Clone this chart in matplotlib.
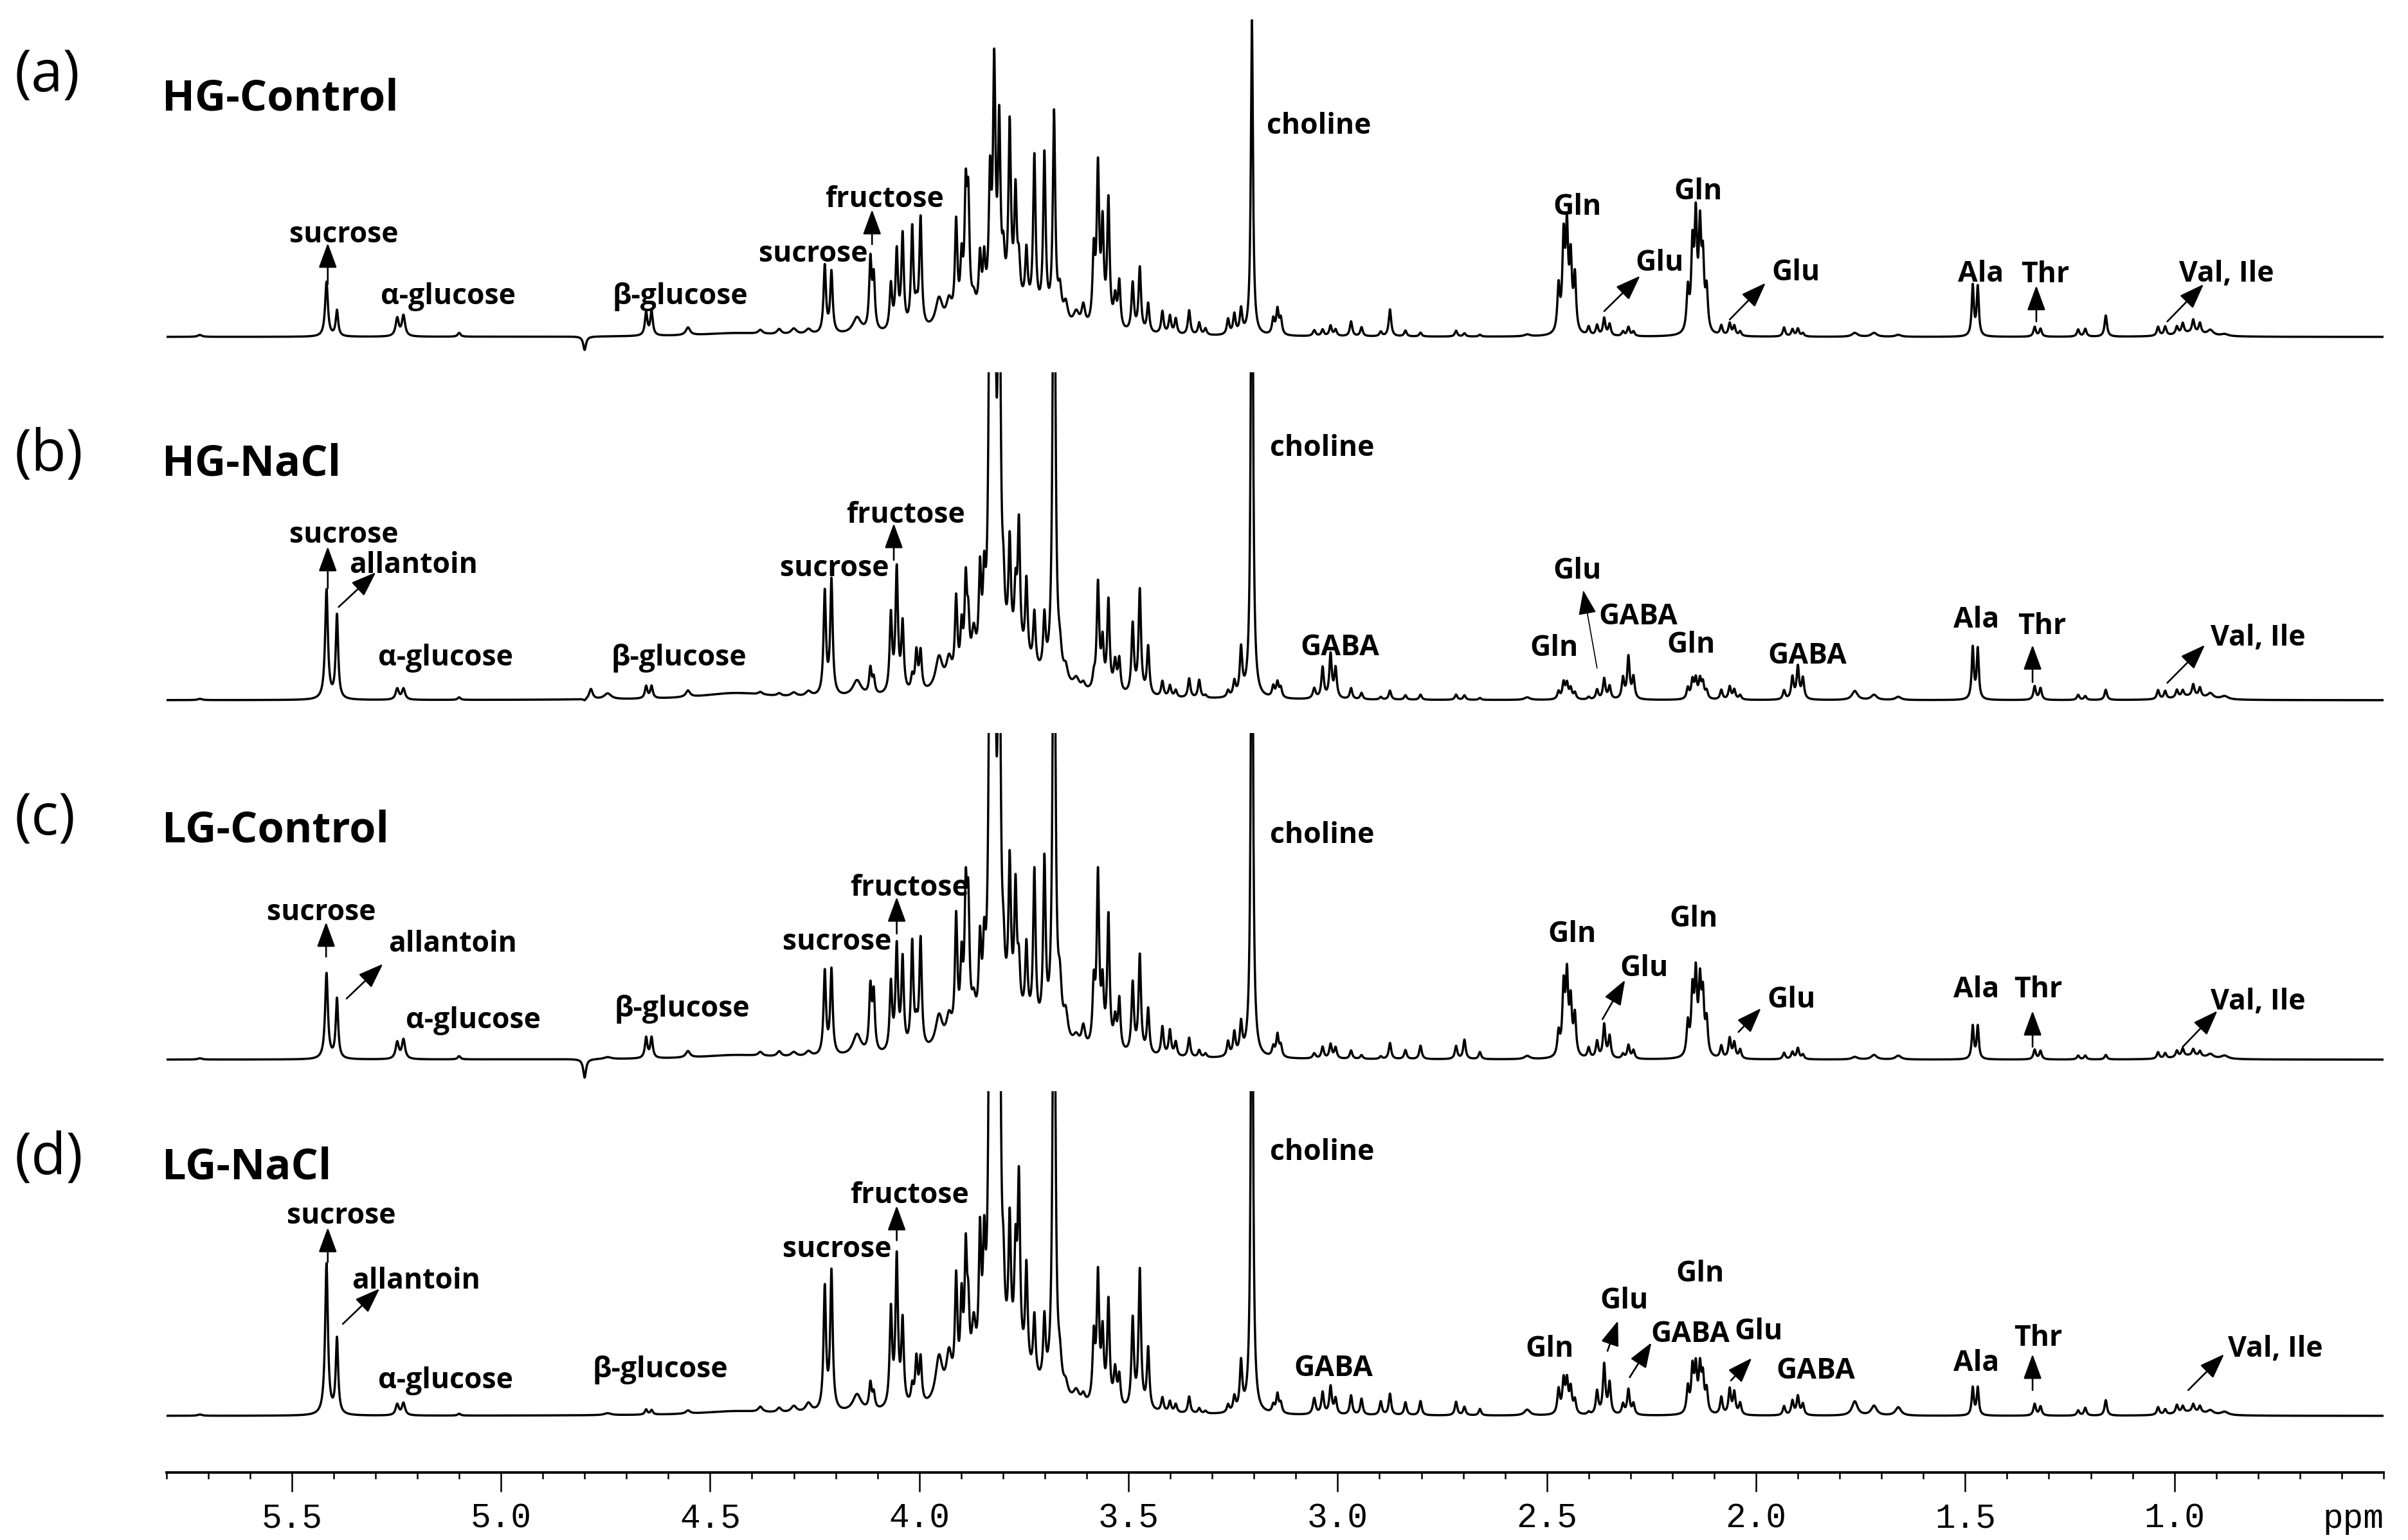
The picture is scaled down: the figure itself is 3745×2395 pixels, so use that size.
import numpy as np
import matplotlib
matplotlib.use("Agg")
import matplotlib.pyplot as plt
from matplotlib.ticker import FixedLocator, MultipleLocator, FormatStrFormatter

W, H, DPI = 3745, 2395, 200

# ---------------- data: peak table ----------------
# chemical shift (ppm) of each resolved signal
peak_ppm = [
    5.720, 5.417, 5.392, 5.248, 5.233, 5.100, 4.800, 4.785, 4.745, 4.653,
    4.640, 4.553, 4.440, 4.380, 4.335, 4.300, 4.265,
    4.226, 4.210, 4.149, 4.117, 4.109, 4.068, 4.054, 4.040, 4.017, 4.007,
    3.997, 3.953, 3.929, 3.912, 3.899, 3.889, 3.883, 3.870, 3.855, 3.845,
    3.831, 3.821, 3.809, 3.799, 3.784, 3.770, 3.762, 3.744, 3.725, 3.701,
    3.678, 3.664, 3.650, 3.625, 3.608, 3.583, 3.573, 3.562, 3.548, 3.532,
    3.522, 3.490, 3.473, 3.453, 3.419, 3.401, 3.387, 3.355, 3.331, 3.316,
    3.262, 3.247, 3.231, 3.205, 3.154, 3.144, 3.136, 3.056,
    3.036, 3.017, 3.005, 2.968, 2.943, 2.897, 2.875, 2.838, 2.802, 2.717,
    2.697, 2.660, 2.547, 2.472, 2.460, 2.452, 2.443, 2.433, 2.400, 2.380,
    2.363, 2.350, 2.318, 2.305, 2.293, 2.163, 2.152, 2.144, 2.134, 2.127,
    2.118, 2.083, 2.063, 2.052, 2.038, 1.933, 1.913, 1.900, 1.888, 1.764,
    1.718, 1.660, 1.482, 1.470, 1.334, 1.320, 1.230, 1.213, 1.164, 1.039,
    1.022, 0.994, 0.980, 0.955, 0.939, 0.914, 0.880, 0.960, 3.780,
]
# half width at half maximum (ppm)
peak_hwhm = [
    .006, .004, .0035, .0045, .0045, .004, .004, .005, .010, .0035,
    .0035, .006, .100, .006, .006, .008, .008,
    .0035, .0035, .012, .0035, .0035, .0035, .0035, .0035, .0035, .0035,
    .0035, .010, .008, .0035, .0035, .0035, .0035, .006, .0035, .0035,
    .0035, .0035, .0035, .0035, .0035, .0035, .0035, .0035, .0035, .0035,
    .0035, .005, .006, .008, .005, .0035, .0035, .0035, .0035, .004,
    .0035, .0035, .0035, .0035, .0035, .0035, .0035, .0035, .0035, .0035,
    .0035, .0035, .0035, .003, .0035, .0035, .0035, .004,
    .0035, .0035, .0035, .0035, .0035, .0035, .0035, .0035, .0035, .0035,
    .0035, .0035, .008, .0035, .0035, .0035, .0035, .0035, .0035, .0035,
    .0035, .0035, .0035, .0035, .0035, .0035, .0035, .0035, .0035, .0035,
    .0035, .0035, .0035, .0035, .0035, .0035, .0035, .0035, .0035, .008,
    .008, .008, .003, .003, .0035, .0035, .0035, .0035, .0035, .0035,
    .0035, .0035, .0035, .0035, .0035, .008, .010, .040, .080,
]
# peak heights per sample (arbitrary intensity)
hg_control = [
    3, 85, 40, 28, 32, 6, -21, 0, 0, 36,
    38, 12, 5, 6, 8, 9, 8,
    105, 95, 25, 108, 80, 70, 120, 145, 155, 25,
    170, 45, 35, 150, 85, 180, 165, 25, 85, 75,
    190, 360, 270, 60, 270, 165, 55, 85, 240, 250,
    320, 45, 30, 22, 32, 110, 240, 150, 195, 45,
    72, 75, 100, 45, 35, 28, 24, 38, 19, 10,
    24, 31, 38, 490, 24, 38, 24, 9,
    10, 16, 10, 23, 14, 7, 42, 9, 6, 9,
    5, 3, 3, 70, 140, 150, 108, 85, 13, 16,
    27, 18, 7, 14, 7, 65, 125, 165, 150, 100,
    62, 15, 19, 15, 7, 14, 11, 12, 5, 6,
    6, 3, 78, 76, 15, 12, 11, 12, 33, 14,
    14, 12, 16, 20, 16, 8, 3, 6, 45,
]
hg_nacl = [
    2, 170, 130, 17, 17, 4, -3, 16, 9, 19,
    19, 10, 10, 4, 4, 6, 8,
    160, 178, 25, 40, 24, 120, 190, 105, 22, 60,
    60, 50, 40, 125, 75, 140, 72, 60, 140, 110,
    700, 800, 700, 70, 165, 90, 200, 125, 85, 85,
    900, 35, 22, 16, 10, 18, 165, 72, 140, 45,
    50, 108, 162, 75, 24, 18, 11, 30, 28, 4,
    10, 23, 72, 900, 17, 23, 15, 16,
    48, 68, 46, 17, 10, 4, 14, 7, 8, 8,
    7, 3, 4, 12, 25, 23, 16, 10, 4, 15,
    32, 20, 32, 65, 33, 17, 28, 29, 28, 23,
    12, 15, 20, 15, 7, 14, 34, 50, 32, 14,
    8, 5, 80, 78, 21, 18, 8, 6, 16, 14,
    12, 12, 10, 18, 14, 8, 5, 6, 55,
]
lg_control = [
    2, 133, 93, 26, 30, 5, -29, 0, 3, 32,
    32, 10, 6, 6, 8, 7, 8,
    130, 132, 33, 98, 88, 105, 160, 140, 165, 28,
    170, 50, 40, 185, 110, 200, 180, 42, 125, 100,
    700, 800, 700, 60, 225, 190, 70, 115, 240, 260,
    900, 70, 40, 16, 32, 92, 265, 90, 205, 45,
    78, 108, 152, 70, 45, 40, 22, 30, 11, 6,
    23, 36, 48, 900, 15, 34, 17, 8,
    18, 22, 17, 13, 6, 4, 25, 14, 21, 20,
    30, 11, 5, 36, 104, 118, 80, 62, 16, 26,
    52, 34, 7, 21, 13, 50, 95, 118, 105, 85,
    52, 19, 31, 24, 14, 10, 11, 17, 7, 4,
    7, 6, 51, 51, 15, 13, 6, 6, 7, 10,
    8, 10, 12, 10, 8, 6, 5, 6, 55,
]
lg_nacl = [
    2, 235, 117, 17, 19, 3, 0, 0, 3, 8,
    7, 5, 6, 8, 7, 10, 14,
    190, 215, 27, 40, 24, 150, 230, 130, 28, 70,
    70, 70, 65, 170, 130, 195, 95, 85, 205, 165,
    800, 900, 800, 90, 205, 155, 275, 160, 95, 100,
    900, 40, 18, 18, 13, 100, 195, 105, 160, 55,
    46, 138, 215, 95, 22, 17, 13, 26, 8, 4,
    12, 23, 75, 900, 12, 29, 15, 25,
    34, 43, 24, 30, 25, 21, 33, 20, 22, 21,
    13, 10, 9, 38, 50, 48, 38, 21, 4, 36,
    77, 48, 16, 39, 17, 40, 67, 67, 67, 52,
    35, 27, 39, 34, 18, 14, 22, 29, 17, 22,
    15, 13, 43, 43, 18, 14, 8, 12, 24, 12,
    8, 13, 10, 12, 10, 6, 5, 6, 65,
]
spectra = [hg_control, hg_nacl, lg_control, lg_nacl]

panel_letters = ["(a)", "(b)", "(c)", "(d)"]
panel_names = ["HG-Control", "HG-NaCl", "LG-Control", "LG-NaCl"]
major_ticks = [5.5, 5.0, 4.5, 4.0, 3.5, 3.0, 2.5, 2.0, 1.5, 1.0]

# annotation labels: (text, ppm, height, alignment)
labels = [
    [("sucrose", 5.375, 147, "center"), ("α-glucose", 5.127, 51, "center"),
     ("β-glucose", 4.571, 51, "center"), ("sucrose", 4.254, 117, "center"),
     ("fructose", 4.084, 202, "center"), ("choline", 3.170, 316, "left"),
     ("Gln", 2.428, 190, "center"), ("Glu", 2.230, 103, "center"),
     ("Gln", 2.138, 214, "center"), ("Glu", 1.904, 88, "center"),
     ("Ala", 1.463, 86, "center"), ("Thr", 1.309, 85, "center"),
     ("Val, Ile", 0.988, 86, "left")],
    [("sucrose", 5.375, 245, "center"), ("allantoin", 5.362, 198, "left"),
     ("α-glucose", 5.133, 54, "center"), ("β-glucose", 4.574, 54, "center"),
     ("sucrose", 4.203, 193, "center"), ("fructose", 4.032, 276, "center"),
     ("choline", 3.162, 380, "left"), ("GABA", 2.995, 70, "center"),
     ("Gln", 2.482, 69, "center"), ("Glu", 2.428, 189, "center"),
     ("GABA", 2.282, 118, "center"), ("Gln", 2.156, 74, "center"),
     ("GABA", 1.878, 57, "center"), ("Ala", 1.474, 113, "center"),
     ("Thr", 1.317, 103, "center"), ("Val, Ile", 0.914, 85, "left")],
    [("sucrose", 5.429, 217, "center"), ("allantoin", 5.269, 168, "left"),
     ("α-glucose", 5.066, 49, "center"), ("β-glucose", 4.567, 67, "center"),
     ("sucrose", 4.196, 171, "center"), ("fructose", 4.024, 255, "center"),
     ("choline", 3.162, 337, "left"), ("Gln", 2.440, 183, "center"),
     ("Glu", 2.267, 130, "center"), ("Gln", 2.149, 207, "center"),
     ("Glu", 1.916, 81, "center"), ("Ala", 1.474, 97, "center"),
     ("Thr", 1.326, 97, "center"), ("Val, Ile", 0.914, 78, "left")],
    [("sucrose", 5.381, 299, "center"), ("allantoin", 5.356, 198, "left"),
     ("α-glucose", 5.133, 43, "center"), ("β-glucose", 4.619, 60, "center"),
     ("sucrose", 4.196, 247, "center"), ("fructose", 4.024, 331, "center"),
     ("choline", 3.162, 398, "left"), ("GABA", 3.010, 62, "center"),
     ("Gln", 2.493, 92, "center"), ("Glu", 2.315, 167, "center"),
     ("GABA", 2.157, 115, "center"), ("Gln", 2.134, 209, "center"),
     ("Glu", 1.994, 119, "center"), ("GABA", 1.858, 58, "center"),
     ("Ala", 1.474, 70, "center"), ("Thr", 1.326, 109, "center"),
     ("Val, Ile", 0.872, 92, "left")],
]
# arrows: (ppm start, height start, ppm tip, height tip)
arrows = [
    [(5.414, 82, 5.414, 146), (4.113, 144, 4.113, 198), (2.363, 40, 2.277, 95),
     (2.063, 27, 1.977, 84), (1.330, 24, 1.330, 80), (1.017, 24, 0.930, 82)],
    [(5.414, 174, 5.414, 239), (5.388, 145, 5.299, 199), (4.061, 218, 4.061, 275),
     (2.380, 50, 2.413, 171), (1.339, 28, 1.339, 86), (1.017, 27, 0.927, 86)],
    [(5.418, 160, 5.418, 214), (5.369, 95, 5.282, 149), (4.054, 196, 4.054, 253),
     (2.367, 63, 2.313, 124), (2.042, 43, 1.988, 80), (1.339, 20, 1.339, 76),
     (0.980, 20, 0.897, 76)],
    [(5.414, 239, 5.414, 293), (5.378, 143, 5.290, 198), (4.054, 273, 4.054, 327),
     (2.355, 101, 2.330, 148), (2.302, 60, 2.250, 114), (2.060, 55, 2.010, 90),
     (1.339, 40, 1.339, 96), (0.967, 40, 0.881, 96)],
]

# ---------------- layout (pixels) ----------------
X0, X1 = 258.6, 3707.0
baselines = [524, 1089, 1648, 2202]
tops = [522, 510, 508, 505]
bottoms = [-40, -40, -40, -88]
letter_pos = [(22, 142), (22, 732), (22, 1298), (22, 1826)]
name_pos = [(252, 172), (252, 739), (252, 1310), (252, 1834)]

LABEL_FONT = ["Open Sans", "DejaVu Sans"]
MONO_FONT = ["Liberation Mono", "DejaVu Sans Mono"]

fig = plt.figure(figsize=(W / DPI, H / DPI), dpi=DPI)
fig.patch.set_facecolor("white")

ppm_grid = np.linspace(5.8, 0.5, 30000)


def lineshape(heights):
    y = np.zeros_like(ppm_grid)
    for p, w, h in zip(peak_ppm, peak_hwhm, heights):
        y += h * w * w / ((ppm_grid - p) ** 2 + w * w)
    return y


for i in range(4):
    bl = baselines[i]
    top_px = bl - tops[i]
    bot_px = bl - bottoms[i]
    ax = fig.add_axes([X0 / W, 1 - bot_px / H, (X1 - X0) / W, (bot_px - top_px) / H])
    ax.plot(ppm_grid, lineshape(spectra[i]), color="black", lw=1.25)
    ax.set_xlim(5.8, 0.5)
    ax.set_ylim(bottoms[i], tops[i])
    ax.set_yticks([])
    for s in ("left", "right", "top"):
        ax.spines[s].set_visible(False)
    if i < 3:
        ax.spines["bottom"].set_visible(False)
        ax.set_xticks([])
    else:
        ax.spines["bottom"].set_linewidth(1.4)
        ax.xaxis.set_major_locator(FixedLocator(major_ticks))
        ax.xaxis.set_minor_locator(MultipleLocator(0.1))
        ax.xaxis.set_major_formatter(FormatStrFormatter("%.1f"))
        ax.tick_params(axis="x", which="major", direction="out", length=10.8,
                       width=0.9, pad=6)
        ax.tick_params(axis="x", which="minor", direction="out", length=3.6,
                       width=0.9)
        for lab in ax.get_xticklabels():
            lab.set_fontfamily(MONO_FONT)
            lab.set_fontsize(19)
        ax.annotate("ppm", xy=(0.5, 0), xycoords=("data", "axes fraction"),
                    xytext=(0, -(10.8 + 6)), textcoords="offset points",
                    ha="right", va="top", fontsize=19, family=MONO_FONT)
    for txt, x, y, ha in labels[i]:
        ax.text(x, y, txt, ha=ha, va="baseline", fontsize=16,
                fontweight="bold", family=LABEL_FONT)
    for x0, y0, x1, y1 in arrows[i]:
        thin = (x0 != x1) and (y1 - y0) > 100
        ax.annotate("", xy=(x1, y1), xytext=(x0, y0), annotation_clip=False,
                    arrowprops=dict(arrowstyle="-|>,head_length=0.6,head_width=0.22",
                                    mutation_scale=20, lw=0.6 if thin else 0.95,
                                    color="black", shrinkA=0, shrinkB=0))
    lx, ly = letter_pos[i]
    fig.text(lx / W, 1 - ly / H, panel_letters[i], ha="left", va="baseline",
             fontsize=32, family=LABEL_FONT)
    nx, ny = name_pos[i]
    fig.text(nx / W, 1 - ny / H, panel_names[i], ha="left", va="baseline",
             fontsize=24, fontweight="bold", family=LABEL_FONT)

fig.savefig("out.png", dpi=DPI, facecolor="white")
